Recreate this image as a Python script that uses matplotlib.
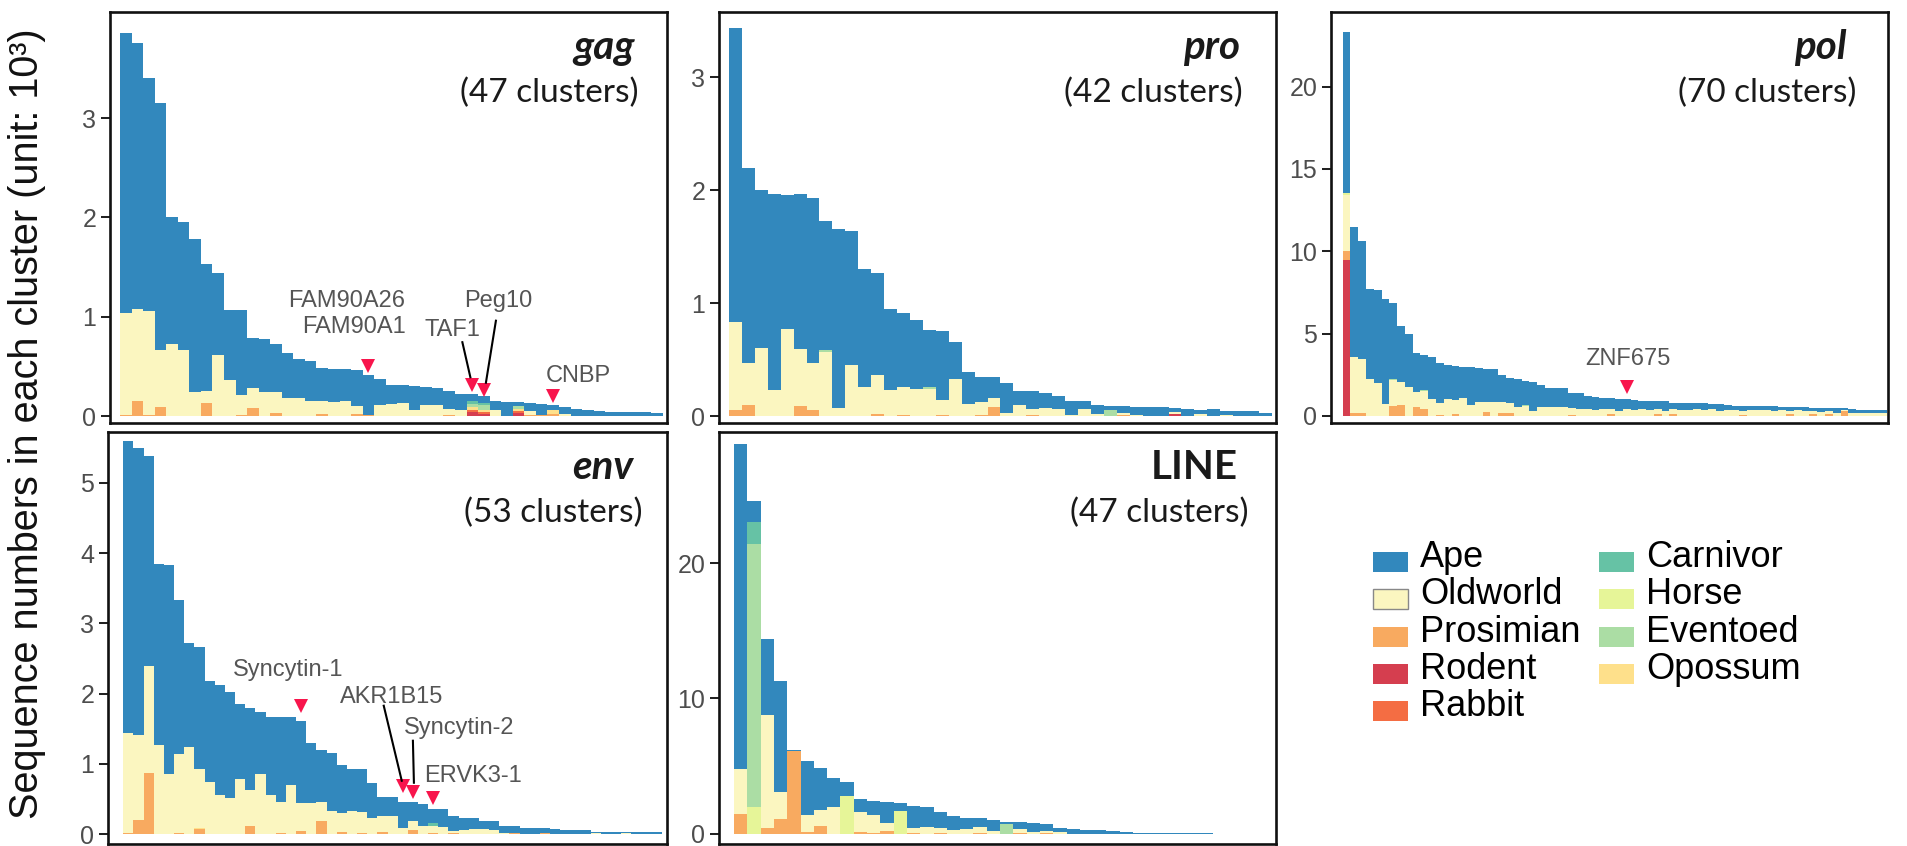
import matplotlib
matplotlib.use("Agg")
import matplotlib.pyplot as plt
import matplotlib.transforms as mtransforms
from matplotlib.lines import Line2D
from matplotlib.patches import Rectangle
import numpy as np

plt.rcParams['font.family'] = ['Liberation Sans', 'DejaVu Sans']

SPECIES = ['Ape', 'Oldworld', 'Prosimian', 'Rodent', 'Rabbit',
           'Carnivor', 'Horse', 'Eventoed', 'Opossum']
COLORS = {'Ape': '#3288bd', 'Oldworld': '#fbf6c0', 'Prosimian': '#f8aa60',
          'Rodent': '#d53e4f', 'Rabbit': '#f46d43', 'Carnivor': '#66c2a5',
          'Horse': '#e6f598', 'Eventoed': '#abdda4', 'Opossum': '#fee08b'}
# bottom -> top
STACK = ['Rodent', 'Rabbit', 'Prosimian', 'Opossum', 'Oldworld',
         'Horse', 'Eventoed', 'Carnivor', 'Ape']
RED = '#f8154c'

# ---- gag ----
GAG_TOTAL = [3.86, 3.76, 3.41, 3.15, 2.01, 1.95, 1.78, 1.53, 1.44, 1.07,
             1.07, 0.79, 0.78, 0.73, 0.64, 0.57, 0.55, 0.48, 0.47, 0.47,
             0.46, 0.41, 0.37, 0.31, 0.31, 0.30, 0.29, 0.28, 0.25, 0.22,
             0.22, 0.205, 0.15, 0.14, 0.14, 0.13, 0.12, 0.11, 0.09, 0.07,
             0.06, 0.05, 0.045, 0.045, 0.04, 0.04, 0.03]
GAG_OLDWORLD = [1.03, 0.93, 1.05, 0.58, 0.73, 0.67, 0.24, 0.12, 0.61, 0.36,
                0.20, 0.20, 0.24, 0.21, 0.18, 0.18, 0.15, 0.13, 0.14, 0.15,
                0.08, 0.0, 0.11, 0.12, 0.13, 0.06, 0.11, 0.11, 0.06, 0.06,
                0.0, 0.0, 0.06, 0.0, 0.0, 0.04, 0.0, 0.0, 0.02, 0.0,
                0.0, 0.0, 0.0, 0.0, 0.0, 0.0, 0.0]
GAG_PROSIMIAN = [0.01, 0.15, 0.01, 0.09, 0, 0, 0, 0.13, 0, 0,
                 0.01, 0.08, 0, 0.03, 0, 0, 0, 0.02, 0, 0,
                 0.02, 0.01, 0, 0, 0, 0, 0, 0, 0.01, 0,
                 0, 0, 0, 0, 0, 0.01, 0.01, 0.025, 0, 0,
                 0, 0, 0, 0, 0, 0, 0]
GAG_OTHER = [('Rodent', 30, 0.04), ('Rabbit', 30, 0.025), ('Opossum', 30, 0.025),
             ('Eventoed', 30, 0.035), ('Carnivor', 30, 0.025),
             ('Rodent', 31, 0.025), ('Rabbit', 31, 0.015), ('Opossum', 31, 0.02),
             ('Eventoed', 31, 0.05), ('Carnivor', 31, 0.025),
             ('Rodent', 34, 0.035), ('Rabbit', 34, 0.02), ('Opossum', 34, 0.02),
             ('Eventoed', 34, 0.025),
             ('Opossum', 37, 0.04)]

# ---- pro ----
PRO_TOTAL = [3.44, 2.20, 2.00, 1.97, 1.96, 1.97, 1.93, 1.73, 1.66, 1.64,
             1.30, 1.27, 0.95, 0.91, 0.85, 0.76, 0.75, 0.66, 0.39, 0.35,
             0.35, 0.29, 0.22, 0.22, 0.20, 0.18, 0.13, 0.13, 0.10, 0.09,
             0.09, 0.08, 0.08, 0.08, 0.07, 0.06, 0.05, 0.06, 0.04, 0.04,
             0.04, 0.03]
PRO_OLDWORLD = [0.78, 0.37, 0.60, 0.23, 0.77, 0.50, 0.42, 0.57, 0.07, 0.45,
                0.26, 0.34, 0.23, 0.25, 0.24, 0.24, 0.13, 0.33, 0.11, 0.11,
                0.08, 0.03, 0.10, 0.05, 0.07, 0.06, 0.01, 0.06, 0.02, 0.0,
                0.02, 0.01, 0.0, 0.0, 0.02, 0.0, 0.02, 0.0, 0.01, 0.0,
                0.0, 0.0]
PRO_PROSIMIAN = [0.05, 0.10, 0, 0, 0, 0.09, 0.05, 0, 0, 0,
                 0, 0.02, 0, 0.01, 0, 0, 0.01, 0, 0, 0.01,
                 0.08, 0, 0, 0.01, 0, 0, 0, 0, 0, 0,
                 0.01, 0, 0, 0, 0, 0, 0, 0, 0, 0,
                 0, 0]
PRO_OTHER = [('Eventoed', 7, 0.012), ('Eventoed', 15, 0.015),
             ('Eventoed', 29, 0.05), ('Rodent', 34, 0.018)]

# ---- pol ----
POL_TOTAL = [23.3, 11.5, 10.6, 7.70, 7.65, 7.10, 6.85, 5.45, 5.00, 3.85,
             3.70, 3.60, 3.20, 3.10, 3.03, 3.00, 3.00, 2.90, 2.83, 2.83,
             2.50, 2.28, 2.24, 2.14, 2.04, 1.88, 1.68, 1.68, 1.68, 1.41,
             1.37, 1.19, 1.17, 1.09, 1.07, 1.02, 1.01, 0.94, 0.92, 0.91,
             0.90, 0.89, 0.80, 0.79, 0.77, 0.77, 0.76, 0.74, 0.74, 0.64,
             0.62, 0.61, 0.60, 0.60, 0.59, 0.58, 0.54, 0.53, 0.52, 0.52,
             0.51, 0.50, 0.47, 0.46, 0.46, 0.39, 0.38, 0.37, 0.36, 0.35]
POL_OLDWORLD = [3.38, 3.40, 3.26, 2.24, 2.02, 0.73, 1.56, 1.41, 1.78, 0.94,
                1.14, 1.03, 0.75, 1.03, 0.85, 1.07, 0.67, 0.87, 0.65, 0.83,
                0.67, 0.61, 0.56, 0.63, 0.32, 0.56, 0.56, 0.52, 0.56, 0.40,
                0.40, 0.42, 0.34, 0.39, 0.32, 0.29, 0.40, 0.36, 0.42, 0.36,
                0.34, 0.32, 0.29, 0.34, 0.36, 0.40, 0.34, 0.39, 0.29, 0.34,
                0.36, 0.26, 0.36, 0.34, 0.34, 0.30, 0.34, 0.22, 0.34, 0.30,
                0.19, 0.22, 0.17, 0.18, 0.04, 0.19, 0.18, 0.17, 0.16, 0.16]
POL_PROSIMIAN = [0.57, 0.20, 0.20, 0, 0, 0, 0.61, 0.67, 0, 0.53,
                 0.40, 0, 0.06, 0, 0.12, 0, 0, 0, 0.22, 0,
                 0.16, 0.16, 0, 0, 0, 0, 0, 0, 0, 0.06,
                 0, 0, 0, 0, 0.12, 0, 0, 0, 0, 0,
                 0.10, 0, 0.10, 0, 0, 0, 0, 0, 0, 0,
                 0, 0.06, 0, 0, 0, 0, 0, 0.10, 0, 0,
                 0.10, 0, 0.12, 0, 0.32, 0, 0, 0, 0, 0]
POL_OTHER = [('Rodent', 0, 9.47), ('Horse', 0, 0.14), ('Eventoed', 6, 0.05),
             ('Eventoed', 10, 0.04), ('Eventoed', 23, 0.04)]

# ---- env ----
ENV_TOTAL = [5.60, 5.50, 5.38, 3.85, 3.83, 3.33, 2.72, 2.66, 2.18, 2.12,
             2.03, 1.85, 1.80, 1.74, 1.66, 1.66, 1.66, 1.61, 1.29, 1.19,
             1.15, 0.99, 0.93, 0.92, 0.73, 0.53, 0.53, 0.46, 0.46, 0.43,
             0.35, 0.35, 0.26, 0.23, 0.23, 0.18, 0.18, 0.11, 0.11, 0.09,
             0.085, 0.085, 0.065, 0.06, 0.06, 0.055, 0.035, 0.03, 0.03, 0.03,
             0.03, 0.025, 0.025]
ENV_OLDWORLD = [1.42, 1.21, 1.52, 1.27, 0.85, 1.13, 1.24, 0.83, 0.74, 0.55,
                0.51, 0.79, 0.51, 0.86, 0.55, 0.45, 0.70, 0.40, 0.44, 0.27,
                0.33, 0.27, 0.33, 0.30, 0.23, 0.22, 0.26, 0.085, 0.13, 0.11,
                0.095, 0.10, 0.03, 0.06, 0.075, 0.075, 0.06, 0.02, 0.0, 0.0,
                0.0, 0.0, 0.0, 0.0, 0.0, 0.0, 0.02, 0.0, 0.0, 0.02,
                0.0, 0.0, 0.0]
ENV_PROSIMIAN = [0.015, 0.20, 0.87, 0, 0, 0.01, 0, 0.07, 0, 0,
                 0, 0, 0.12, 0, 0, 0.01, 0, 0.04, 0, 0.19,
                 0, 0.03, 0, 0.02, 0, 0.03, 0, 0, 0.06, 0,
                 0.015, 0, 0.015, 0, 0, 0, 0, 0, 0.015, 0,
                 0, 0.015, 0, 0, 0, 0, 0, 0, 0, 0,
                 0, 0, 0]
ENV_OTHER = [('Opossum', 7, 0.02), ('Carnivor', 30, 0.04)]

# ---- LINE ----
LINE_TOTAL = [28.8, 24.6, 14.4, 11.3, 6.20, 5.40, 4.90, 4.10, 3.86, 2.60,
              2.41, 2.33, 2.28, 2.09, 2.00, 1.60, 1.30, 1.20, 1.15, 1.05,
              0.90, 0.90, 0.78, 0.73, 0.44, 0.37, 0.32, 0.30, 0.25, 0.17,
              0.08, 0.07, 0.07, 0.05, 0.04, 0.04, 0.03, 0.03, 0.03, 0.03,
              0.02, 0.02, 0.02, 0.02, 0.02, 0.02, 0.02]
LINE_OLDWORLD = [3.32, 0, 8.34, 1.97, 0, 1.23, 1.16, 1.97, 0, 1.48,
                 1.33, 0.56, 0, 0.32, 0.49, 0.34, 0.32, 0.37, 0.39, 0.25,
                 0, 0.30, 0.17, 0.18, 0.12, 0, 0, 0, 0, 0,
                 0, 0, 0, 0, 0, 0, 0, 0, 0, 0,
                 0, 0, 0, 0, 0, 0, 0]
LINE_PROSIMIAN = [1.48, 0, 0.44, 1.10, 6.15, 0.17, 0.62, 0, 0, 0.12,
                  0.10, 0.25, 0, 0.10, 0, 0.10, 0, 0, 0.10, 0,
                  0, 0.07, 0, 0.07, 0, 0, 0, 0, 0, 0,
                  0, 0, 0, 0, 0, 0, 0, 0, 0, 0,
                  0, 0, 0, 0, 0, 0, 0]
LINE_OTHER = [('Horse', 1, 1.97), ('Eventoed', 1, 19.43), ('Carnivor', 1, 1.6),
              ('Horse', 8, 2.78), ('Horse', 12, 1.72), ('Eventoed', 20, 0.74)]

# gene markers: (cluster index, gap above bar px, [(label, dx, dy, ha)], line offsets)
GAG_MARKS = [(21, 9, [('FAM90A26', 37, 59, 'right'), ('FAM90A1', 37, 33, 'right')], None),
             (30, 9, [('TAF1', -20, 49, 'center')], (-10, 43, -2, 8)),
             (31, 6, [('Peg10', 14, 83, 'center')], (12, 69, 2, 7)),
             (37, 9, [('CNBP', 25, 14, 'center')], None)]
POL_MARKS = [(36, 12, [('ZNF675', 1, 22, 'center')], None)]
ENV_MARKS = [(17, 15, [('Syncytin-1', -13, 30, 'center')], None),
             (27, 16, [('AKR1B15', -11, 83, 'center')], (-19, 80, -1, 5)),
             (28, 10, [('Syncytin-2', 46, 58, 'center')], (0, 51, 1, 9)),
             (30, 11, [('ERVK3-1', 40, 16, 'center')], None)]

W, H = 1907, 846
PANELS = [
    dict(name='gag', italic=True, n=47, data=(GAG_TOTAL, GAG_OLDWORLD, GAG_PROSIMIAN, GAG_OTHER),
         marks=GAG_MARKS, box=(110, 12, 667, 423), ylim=(-0.07, 4.07), yticks=[0, 1, 2, 3],
         xlim=(-1.37, 46.85), tdx=(-32, -29)),
    dict(name='pro', italic=True, n=42, data=(PRO_TOTAL, PRO_OLDWORLD, PRO_PROSIMIAN, PRO_OTHER),
         marks=[], box=(719, 12, 1276, 423), ylim=(-0.062, 3.58), yticks=[0, 1, 2, 3],
         xlim=(-1.27, 41.81), tdx=(-36, -33)),
    dict(name='pol', italic=True, n=70, data=(POL_TOTAL, POL_OLDWORLD, POL_PROSIMIAN, POL_OTHER),
         marks=POL_MARKS, box=(1331, 12, 1888, 423), ylim=(-0.43, 24.53), yticks=[0, 5, 10, 15, 20],
         xlim=(-2.0, 69.6), tdx=(-41, -32)),
    dict(name='env', italic=True, n=53, data=(ENV_TOTAL, ENV_OLDWORLD, ENV_PROSIMIAN, ENV_OTHER),
         marks=ENV_MARKS, box=(108, 432, 667, 844), ylim=(-0.142, 5.726), yticks=[0, 1, 2, 3, 4, 5],
         xlim=(-2.0, 53.0), tdx=(-34, -24)),
    dict(name='LINE', italic=False, n=47, data=(LINE_TOTAL, LINE_OLDWORLD, LINE_PROSIMIAN, LINE_OTHER),
         marks=[], box=(719, 432, 1276, 844), ylim=(-0.74, 29.67), yticks=[0, 10, 20],
         xlim=(-1.63, 40.25), tdx=(-38, -28)),
]


def compose(total, oldworld, prosimian, other):
    n = len(total)
    parts = {sp: np.zeros(n) for sp in SPECIES}
    parts['Oldworld'] = np.array(oldworld, dtype=float)
    parts['Prosimian'] = np.array(prosimian, dtype=float)
    for sp, i, v in other:
        parts[sp][i] += v
    rest = sum(parts[sp] for sp in SPECIES if sp != 'Ape')
    parts['Ape'] = np.clip(np.array(total) - rest, 0, None)
    return parts


fig = plt.figure(figsize=(W / 100, H / 100), dpi=100)

for p in PANELS:
    l, t, r, b = p['box']
    ax = fig.add_axes([l / W, 1 - b / H, (r - l) / W, (b - t) / H])
    total = p['data'][0]
    parts = compose(*p['data'])
    x = np.arange(len(total))
    bottom = np.zeros(len(total))
    for sp in STACK:
        h = parts[sp]
        ax.bar(x, h, bottom=bottom, width=1.0, color=COLORS[sp],
               linewidth=0, antialiased=False)
        bottom += h
    ax.set_xlim(*p['xlim'])
    ax.set_ylim(*p['ylim'])
    ax.set_xticks([])
    ax.set_yticks(p['yticks'])
    ax.set_yticklabels([str(v) for v in p['yticks']])
    ax.tick_params(axis='y', direction='out', length=6.3, width=1.45, pad=3.6,
                   labelsize=18, labelcolor='#4d4d4d', color='#222222')
    for s in ax.spines.values():
        s.set_linewidth(1.9)
        s.set_color('#111111')

    ax.annotate(p['name'], xy=(1, 1), xycoords='axes fraction',
                xytext=(p['tdx'][0], -47), textcoords='offset pixels',
                ha='right', va='baseline', fontsize=29, fontweight='bold',
                fontstyle='italic' if p['italic'] else 'normal',
                family='Lato', color='#1a1a1a')
    ax.annotate('(%d clusters)' % p['n'], xy=(1, 1), xycoords='axes fraction',
                xytext=(p['tdx'][1], -90), textcoords='offset pixels',
                ha='right', va='baseline', fontsize=24, family='Lato',
                color='#1a1a1a')

    for idx, gap, texts, line in p['marks']:
        top = total[idx]
        tr = mtransforms.offset_copy(ax.transData, fig=fig, x=0, y=gap, units='dots')
        ax.plot([idx], [top], marker='v', ms=9.7, color=RED, mew=0,
                transform=tr, clip_on=False, zorder=6)
        for label, dx, dy, ha in texts:
            ax.annotate(label, xy=(idx, top), xycoords='data',
                        xytext=(dx, gap + dy), textcoords='offset pixels',
                        ha=ha, va='baseline', fontsize=17, color='#555555',
                        annotation_clip=False)
        if line:
            px, py = ax.transData.transform((idx, top))
            lx0, ly0, lx1, ly1 = line
            fig.add_artist(Line2D([px + lx0, px + lx1],
                                  [py + gap + ly0, py + gap + ly1],
                                  transform=mtransforms.IdentityTransform(),
                                  color='black', lw=1.5, zorder=5))

fig.text(27 / W, 1 - 424 / H, 'Sequence numbers in each cluster (unit: 10³)',
         rotation=90, ha='center', va='center', fontsize=28.5, color='#111111')

# legend
for i, sp in enumerate(SPECIES):
    col, row = divmod(i, 5)
    px = 1373 + col * 226
    py = 552 + row * 37.3
    fig.patches.append(Rectangle((px / W, 1 - (py + 20) / H), 35 / W, 20 / H,
                                 transform=fig.transFigure, facecolor=COLORS[sp],
                                 edgecolor='#888888' if sp == 'Oldworld' else 'none',
                                 linewidth=1.0))
    fig.text((px + 47) / W, 1 - (py + 15) / H, sp, fontsize=26, va='baseline',
             ha='left', color='black')

fig.savefig('out.png', dpi=100)
